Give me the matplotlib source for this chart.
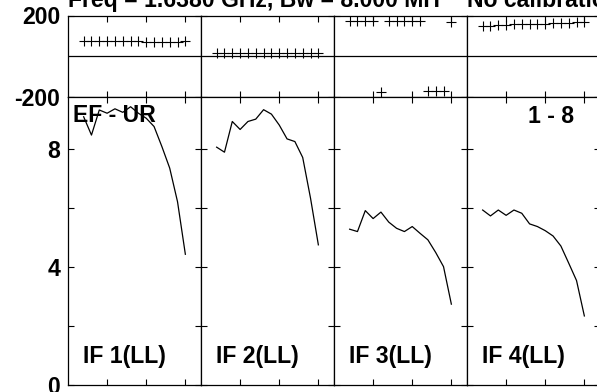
import numpy as np
import matplotlib
matplotlib.use('Agg')
import matplotlib.pyplot as plt

plt.rcParams['font.family'] = ['Liberation Sans', 'DejaVu Sans']
plt.rcParams['font.weight'] = 'bold'

# channels plotted in every IF panel
channels = list(range(2, 16))

# amplitude per channel, one list per IF
amp_if1 = [9.10, 8.48, 9.33, 9.22, 9.37, 9.25, 9.44, 9.22, 9.05, 8.77, 8.09, 7.36, 6.22, 4.44]
amp_if2 = [8.07, 7.90, 8.94, 8.67, 8.94, 9.02, 9.34, 9.19, 8.82, 8.35, 8.26, 7.72, 6.34, 4.76]
amp_if3 = [5.29, 5.21, 5.92, 5.65, 5.87, 5.53, 5.32, 5.21, 5.38, 5.15, 4.93, 4.50, 4.02, 2.75]
amp_if4 = [5.94, 5.74, 5.94, 5.76, 5.94, 5.83, 5.47, 5.38, 5.24, 5.06, 4.72, 4.14, 3.55, 2.35]

# phase per channel (degrees), one list per IF
phase_if1 = [76, 76, 75, 75, 75, 75, 75, 77, 72, 70, 70, 71, 72, 74]
phase_if2 = [14, 15, 15, 16, 15, 16, 15, 16, 15, 16, 14, 15, 14, 15]
phase_if3 = [172, 172, 173, 172, -176, 172, 173, 172, 173, 172, -171, -171, -171, 170]
phase_if4 = [150, 150, 152, 155, 156, 157, 158, 159, 160, 161, 163, 165, 167, 170]

amps = [amp_if1, amp_if2, amp_if3, amp_if4]
phases = [phase_if1, phase_if2, phase_if3, phase_if4]
if_labels = ['IF 1(LL)', 'IF 2(LL)', 'IF 3(LL)', 'IF 4(LL)']

W, H = 597, 392
fig = plt.figure(figsize=(W / 100, H / 100), dpi=100)

left0 = 68
pw = 133
ph_top, ph_bot = 15.5, 97
am_top, am_bot = 97, 385.3
fs = 16.6

def tick_style(ax):
    ax.tick_params(direction='in', length=4.5, width=0.8, top=True, right=True,
                   labelsize=fs, pad=5.5)
    for s in ax.spines.values():
        s.set_linewidth(0.9)

for i in range(4):
    x0 = (left0 + i * pw) / W
    w = pw / W
    axp = fig.add_axes([x0, 1 - ph_bot / H, w, (ph_bot - ph_top) / H])
    axa = fig.add_axes([x0, 1 - am_bot / H, w, (am_bot - am_top) / H])

    # phase panel
    axp.plot(channels, phases[i], linestyle='none', marker='+', color='black',
             markersize=7, markeredgewidth=0.8)
    axp.axhline(0, color='black', lw=0.9)
    axp.set_xlim(0, 17)
    axp.set_ylim(-200, 200)
    axp.set_xticks([5, 10, 15])
    axp.set_xticklabels([])
    axp.set_yticks([-200, 200])
    if i == 0:
        axp.set_yticklabels(['-200', '200'], fontweight='bold')
    else:
        axp.set_yticklabels([])
    tick_style(axp)

    # amplitude panel
    axa.plot(channels, amps[i], color='black', lw=0.9)
    axa.set_xlim(0, 17)
    axa.set_ylim(0, 9.77)
    axa.set_xticks([5, 10, 15])
    axa.set_xticklabels([])
    axa.set_yticks([0, 2, 4, 6, 8])
    if i == 0:
        axa.set_yticklabels(['0', '', '4', '', '8'], fontweight='bold')
    else:
        axa.set_yticklabels([])
    tick_style(axa)

    axa.text(15 / pw, 22 / (am_bot - am_top), if_labels[i], transform=axa.transAxes,
             fontsize=fs, fontweight='bold', ha='left', va='baseline')

    if i == 0:
        axa.text(5 / pw, 1 - 19 / (am_bot - am_top), 'EF - UR', transform=axa.transAxes,
                 fontsize=fs, fontweight='bold', ha='left', va='center')
    if i == 3:
        axa.text(107 / pw, 1 - 19.5 / (am_bot - am_top), '1 - 8', transform=axa.transAxes,
                 fontsize=fs, fontweight='bold', ha='right', va='center')

fig.text(68 / W, 1 - 7 / H, 'Freq = 1.6380 GHz, Bw = 8.000 MH', fontsize=fs,
         fontweight='bold', ha='left', va='baseline')
fig.text(467 / W, 1 - 7 / H, 'No calibration applied', fontsize=fs,
         fontweight='bold', ha='left', va='baseline')

fig.savefig('out.png', dpi=100)
